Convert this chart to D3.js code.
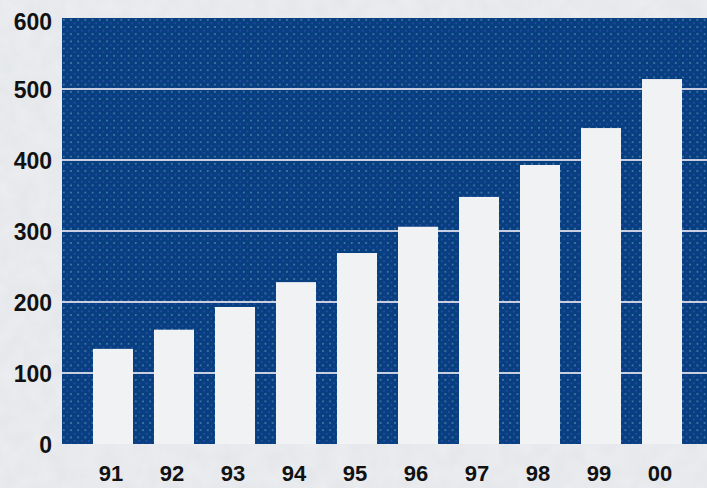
<!DOCTYPE html>
<html>
<head>
<meta charset="utf-8">
<script src="https://cdn.jsdelivr.net/npm/d3@7"></script>
<style>
  html, body { margin: 0; padding: 0; background: #eceef1; overflow: hidden; }
  svg { display: block; }
</style>
</head>
<body>
<div id="chart"></div>
<script>
// values
var years = ["91", "92", "93", "94", "95", "96", "97", "98", "99", "00"]
var values = [134, 161, 193, 228, 269, 306, 348, 393, 445, 514]
var yTicks = [0, 100, 200, 300, 400, 500, 600]

var W = 707, H = 488,
  plotLeft = 62, plotTop = 18, plotBottom = 444

var svg = d3.select('#chart').append('svg')
  .attr('width', W).attr('height', H)

var defs = svg.append('defs')

// paper texture for the page
var grain = defs.append('filter').attr('id', 'grain')
  .attr('x', 0).attr('y', 0).attr('width', '100%').attr('height', '100%')
grain.append('feTurbulence').attr('type', 'fractalNoise')
  .attr('baseFrequency', 0.06).attr('numOctaves', 3).attr('seed', 4).attr('result', 'n')
grain.append('feColorMatrix').attr('type', 'matrix')
  .attr('values', '0 0 0 0 0.55  0 0 0 0 0.57  0 0 0 0 0.6  0 0 0 0.22 0')

// dotted screen over the blue
var dots = defs.append('pattern').attr('id', 'dots')
  .attr('patternUnits', 'userSpaceOnUse')
  .attr('x', plotLeft).attr('y', plotTop)
  .attr('width', 7.2).attr('height', 7.2)
dots.append('rect').attr('width', 7.2).attr('height', 7.2).attr('fill', '#073f80')
dots.append('circle').attr('cx', 1.8).attr('cy', 1.8).attr('r', 0.8).attr('fill', '#5d8fb8')
dots.append('circle').attr('cx', 5.4).attr('cy', 5.4).attr('r', 0.8).attr('fill', '#3a4fb6')

svg.append('rect').attr('width', W).attr('height', H).attr('fill', '#eceef1')
svg.append('rect').attr('width', W).attr('height', H).attr('filter', 'url(#grain)')

var x = d3.scaleBand()
  .domain(years)
  .range([plotLeft, 713])
  .paddingInner(0.344)
  .paddingOuter(0.508)

var y = d3.scaleLinear()
  .domain([0, 600])
  .range([plotBottom, plotTop])

// plot background
svg.append('rect')
  .attr('x', plotLeft).attr('y', y(600))
  .attr('width', W - plotLeft).attr('height', y(0) - y(600))
  .attr('fill', 'url(#dots)')

// grid lines
svg.append('g')
  .selectAll('line')
  .data(yTicks.filter(d => d > 0 && d < 600))
  .enter().append('line')
  .attr('x1', plotLeft).attr('x2', W)
  .attr('y1', d => y(d)).attr('y2', d => y(d))
  .attr('stroke', '#c9cfe0').attr('stroke-width', 2)

// bars
svg.append('g')
  .selectAll('rect')
  .data(values)
  .enter().append('rect')
  .attr('x', (d, i) => x(years[i]))
  .attr('y', d => y(d))
  .attr('width', x.bandwidth())
  .attr('height', d => y(0) - y(d))
  .attr('fill', '#f1f2f4')

// y axis labels
var yAxis = d3.axisLeft(y).tickValues(yTicks).tickSize(0).tickPadding(10)
var yG = svg.append('g').attr('transform', 'translate(' + plotLeft + ',0)').call(yAxis)
yG.select('.domain').remove()
yG.selectAll('text')
  .attr('dy', '0.36em')
  .attr('fill', '#111')
  .style('font-family', '"Liberation Sans", Arial, sans-serif')
  .style('font-weight', 'bold')
  .style('font-size', '23px')
yG.selectAll('.tick').filter(d => d === 600).select('text').attr('dy', '0.5em')

// x axis labels
var xAxis = d3.axisBottom(x).tickSize(0).tickPadding(21)
var xG = svg.append('g').attr('transform', 'translate(-2,' + plotBottom + ')').call(xAxis)
xG.select('.domain').remove()
xG.selectAll('text')
  .attr('fill', '#111')
  .style('font-family', '"Liberation Sans", Arial, sans-serif')
  .style('font-weight', 'bold')
  .style('font-size', '22px')
</script>
</body>
</html>
